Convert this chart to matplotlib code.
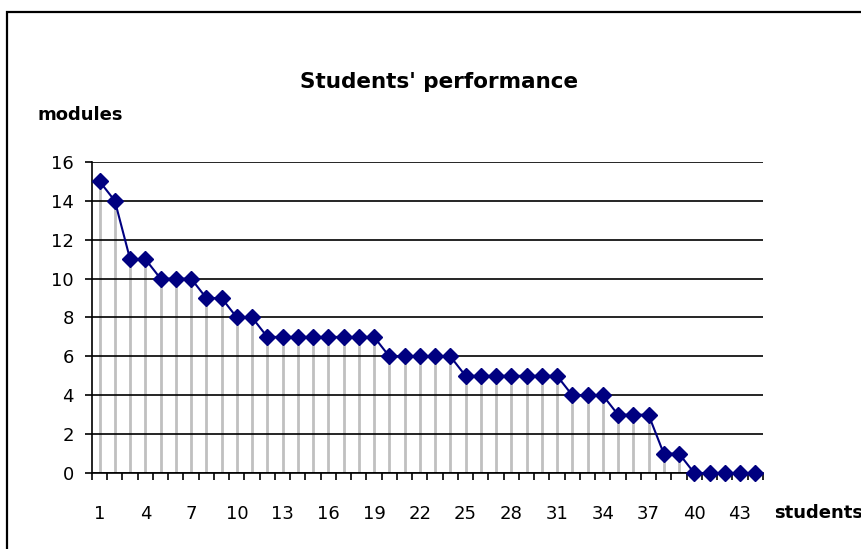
import matplotlib
matplotlib.use('Agg')
import matplotlib.pyplot as plt
from matplotlib.patches import Rectangle
import numpy as np

# modules passed per student, sorted descending
students = list(range(1, 45))
modules = [15, 14, 11, 11, 10, 10, 10, 9, 9, 8, 8,
           7, 7, 7, 7, 7, 7, 7, 7,
           6, 6, 6, 6, 6,
           5, 5, 5, 5, 5, 5, 5,
           4, 4, 4,
           3, 3, 3,
           1, 1,
           0, 0, 0, 0, 0]
y_ticks = [0, 2, 4, 6, 8, 10, 12, 14, 16]
x_labels = list(range(1, 45, 3))

plt.rcParams['font.family'] = 'DejaVu Sans'

fig = plt.figure(figsize=(8.62, 5.49), dpi=100)
ax = fig.add_axes([0.1067, 0.1384, 0.7783, 0.5666])

# outer chart frame (runs off the right and bottom edges)
fig.patches.append(Rectangle((7 / 862, -0.1), 1.2, 1 - 12 / 549 + 0.1,
                             transform=fig.transFigure, fill=False,
                             edgecolor='black', linewidth=1.6, clip_on=False))

# drop lines
ax.vlines(students, 0, modules, color='#c0c0c0', linewidth=2, zorder=2)
# horizontal gridlines
ax.hlines(y_ticks, 0.5, 44.5, color='black', linewidth=1.2, zorder=2.5)
ax.plot(students, modules, color='#000080', linewidth=1.5,
        marker='D', markersize=8, zorder=3, clip_on=False)

ax.set_xlim(0.5, 44.5)
ax.set_ylim(0, 16)

ax.set_yticks(y_ticks)
ax.tick_params(axis='y', direction='out', length=5, width=1.2, pad=8,
               labelsize=13)

ax.set_xticks(x_labels)
ax.set_xticks(np.arange(0.5, 45, 1), minor=True)
ax.tick_params(axis='x', which='major', length=0, pad=23, labelsize=13)
ax.tick_params(axis='x', which='minor', direction='out', length=5, width=1.2)

for side in ['top', 'right']:
    ax.spines[side].set_visible(False)
for side in ['left', 'bottom']:
    ax.spines[side].set_linewidth(1.2)

fig.text(439 / 862, 1 - 82 / 549, "Students' performance", ha='center',
         va='center', fontsize=15.5, fontweight='bold')
fig.text(38 / 862, 1 - 115 / 549, 'modules', ha='left', va='center',
         fontsize=13, fontweight='bold')
fig.text(774 / 862, 1 - 513 / 549, 'students', ha='left', va='center',
         fontsize=13, fontweight='bold')

fig.savefig('out.png', dpi=100)
